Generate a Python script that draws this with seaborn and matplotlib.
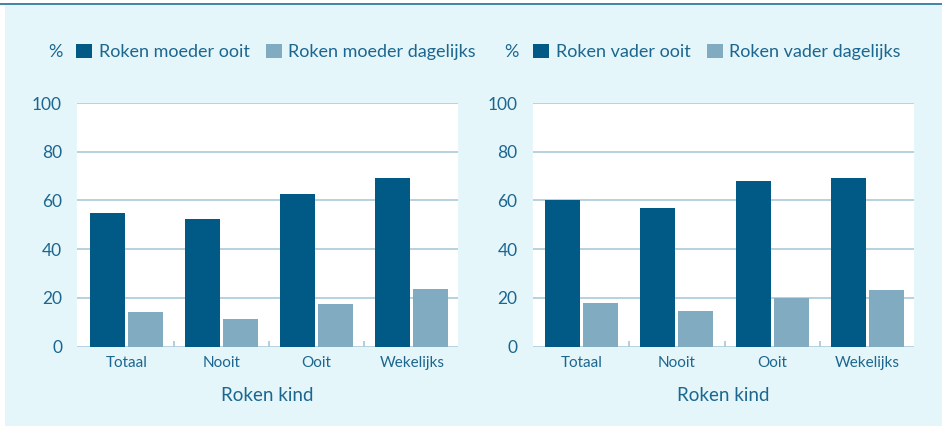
import matplotlib
matplotlib.use("Agg")
import matplotlib.pyplot as plt
import seaborn as sns
import pandas as pd
from matplotlib.patches import Rectangle
from matplotlib.lines import Line2D

categories = ["Totaal", "Nooit", "Ooit", "Wekelijks"]
moeder_labels = ["Roken moeder ooit", "Roken moeder dagelijks"]
moeder_ooit = [55.0, 52.5, 62.8, 69.3]
moeder_dagelijks = [14.2, 11.3, 17.5, 23.6]
vader_labels = ["Roken vader ooit", "Roken vader dagelijks"]
vader_ooit = [60.3, 57.1, 68.1, 69.4]
vader_dagelijks = [18.0, 14.7, 20.0, 23.3]
yticks = [0, 20, 40, 60, 80, 100]
xlabel = "Roken kind"

DARK = "#005a85"
LIGHT = "#80abc1"
BG = "#e4f6fa"
TXT = "#1c668f"
GRID = "#a9cbd9"

sns.set_style("white")
plt.rcParams["font.family"] = ["Lato", "DejaVu Sans"]

W, H = 942, 426
fig = plt.figure(figsize=(W / 100, H / 100), dpi=100, facecolor="white")
fig.patches.append(Rectangle((5 / W, 0), 1 - 5 / W, (H - 4.5) / H, transform=fig.transFigure,
                             facecolor=BG, edgecolor="none", zorder=-10))
fig.lines.append(Line2D([0, 1], [(H - 3.8) / H, (H - 3.8) / H], transform=fig.transFigure,
                        color="#2f7ba0", lw=1.3))

bottom = 1 - 346.7 / H
height = (346.7 - 103) / H
panels = [
    (77.3, 458.0, moeder_labels, moeder_ooit, moeder_dagelijks, 48, 76),
    (532.7, 913.5, vader_labels, vader_ooit, vader_dagelijks, 504, 533),
]

for x0, x1, labels, ooit, dag, pct_x, leg_x in panels:
    ax = fig.add_axes([x0 / W, bottom, (x1 - x0) / W, height])
    df = pd.DataFrame({
        "cat": categories * 2,
        "val": list(ooit) + list(dag),
        "serie": [labels[0]] * 4 + [labels[1]] * 4,
    })
    sns.barplot(data=df, x="cat", y="val", hue="serie", order=categories,
                hue_order=labels, palette=[DARK, LIGHT], width=0.8, gap=0.08,
                saturation=1, linewidth=0, edgecolor="none", ax=ax, zorder=3)
    ax.set_facecolor("white")
    ax.set_xlim(-0.515, 3.485)
    ax.set_ylim(0, 100)
    ax.set_yticks(yticks)
    ax.set_yticklabels([str(v) for v in yticks])
    for s in ax.spines.values():
        s.set_visible(False)
    ax.grid(axis="y", color=GRID, lw=1.2, zorder=0)
    ax.grid(axis="x", visible=False)
    ax.set_axisbelow(True)
    ax.tick_params(axis="y", length=0, pad=11, labelsize=12.5, labelcolor=TXT)
    ax.tick_params(axis="x", which="major", length=0, pad=7, labelsize=11, labelcolor=TXT)
    ax.set_xticks([0.5, 1.5, 2.5], minor=True)
    ax.tick_params(axis="x", which="minor", direction="in", length=4.5, width=1.2,
                   color="#a9c6d4", bottom=True)
    ax.set_xlabel(xlabel, fontsize=13.5, color=TXT, labelpad=12)
    ax.set_ylabel("")
    handles, labs = ax.get_legend_handles_labels()
    ax.get_legend().remove()
    fig.text(pct_x / W, 1 - 52 / H, "%", fontsize=13, color=TXT, va="center", ha="left")
    fig.legend(handles, labs, loc="center left", bbox_to_anchor=(leg_x / W, 1 - 52 / H),
               ncol=2, frameon=False, fontsize=13, labelcolor=TXT,
               handlelength=0.9, handleheight=0.8, handletextpad=0.35,
               columnspacing=0.9, borderpad=0, borderaxespad=0)

fig.savefig("out.png", dpi=100, facecolor=fig.get_facecolor())
